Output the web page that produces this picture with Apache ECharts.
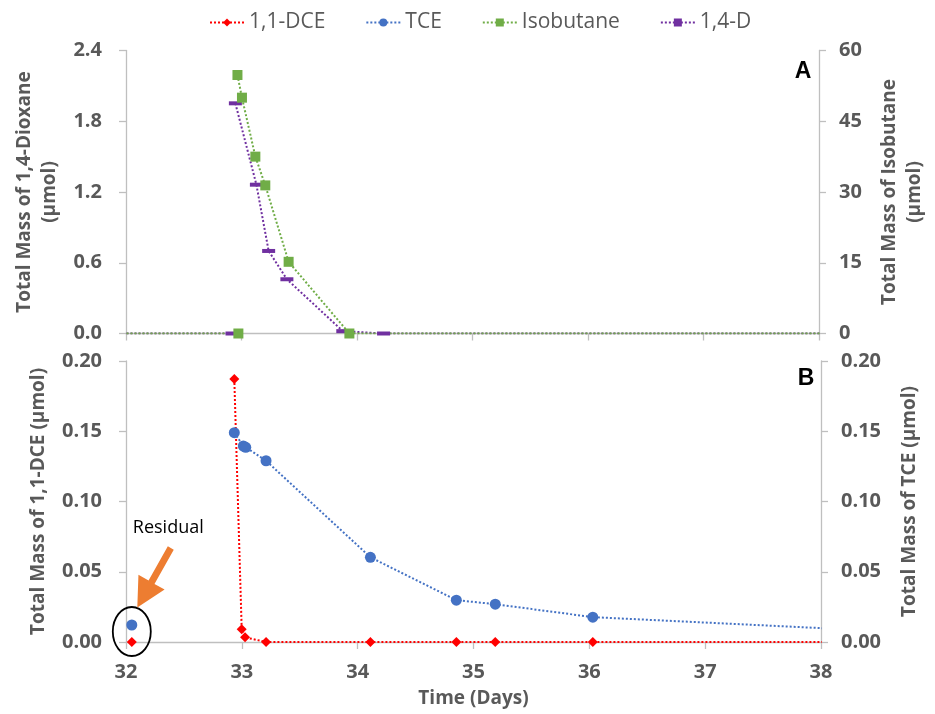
<!DOCTYPE html>
<html><head><meta charset="utf-8">
<script src="https://cdn.jsdelivr.net/npm/echarts@6/dist/echarts.min.js"></script>
<style>html,body{margin:0;padding:0;background:#fff}#c{width:935px;height:714px}</style>
</head><body><div id="c"></div>
<script>
// ---- data ----
const seriesNames = ['1,1-DCE', 'TCE', 'Isobutane', '1,4-D'];
// Panel A
const dioxBaseDays = [31, 32.918];
const dioxBaseMass = [0, 0];
const dioxDays = [32.947, 33.129, 33.235, 33.393, 33.877, 34.23, 39];
const dioxMass = [1.952, 1.262, 0.700, 0.460, 0.02, 0, 0];
const isoBaseDays = [31, 32.973];
const isoBaseMass = [0, 0];
const isoDays = [32.965, 33.004, 33.12, 33.206, 33.408, 33.934, 39];
const isoMass = [54.8, 50.0, 37.5, 31.4, 15.2, 0, 0];
// Panel B
const residualDays = [32.05];
const dceResidual = [0];
const tceResidual = [0.0121];
const dceDays = [32.935, 32.999, 33.028, 33.209, 34.11, 34.852, 35.188, 36.03, 39];
const dceMass = [0.1872, 0.009, 0.0033, 0, 0, 0, 0, 0, 0];
const tceDays = [32.935, 33.013, 33.034, 33.209, 34.11, 34.852, 35.188, 36.03, 39];
const tceMass = [0.149, 0.1395, 0.1386, 0.129, 0.0603, 0.0298, 0.0269, 0.0177, 0.0059];
// axes
const dayRange = [32, 38, 1];
const dioxRange = [0, 2.4, 0.6];
const isoRange = [0, 60, 15];
const massBRange = [0, 0.2, 0.05];
const axisTitles = {
  x: 'Time (Days)',
  dioxane: 'Total Mass of 1,4-Dioxane\n(µmol)',
  isobutane: 'Total Mass of Isobutane\n(µmol)',
  dce: 'Total Mass of 1,1-DCE (µmol)',
  tce: 'Total Mass of TCE (µmol)'
};
const panelLabels = ['A', 'B'];
const residualText = 'Residual';

// ---- helpers ----
function pairs(xs, ys) { return xs.map((x, i) => [x, ys[i]]); }
function joinSegments(...segs) {
  const out = [];
  segs.forEach((s, i) => { if (i > 0) out.push([s[0][0], '-']); out.push(...s); });
  return out;
}

const FONT = '"Open Sans", "Liberation Sans", sans-serif';
const GRAY = '#595959';
const AXIS_GRAY = '#BFBFBF';
const tickLabel = (dec) => ({ color: GRAY, fontFamily: FONT, fontWeight: 'bold', fontSize: 20, formatter: v => v.toFixed(dec) });
const nameStyle = { color: GRAY, fontFamily: FONT, fontWeight: 'bold', fontSize: 19, lineHeight: 25 };

function yAxis(grid, pos, range, dec, name, gap) {
  return {
    type: 'value', gridIndex: grid, position: pos, min: range[0], max: range[1], interval: range[2],
    axisLine: { show: true, lineStyle: { color: AXIS_GRAY, width: 1.3 } },
    axisTick: { show: true, length: 7, lineStyle: { color: AXIS_GRAY, width: 1.3 } },
    splitLine: { show: false },
    axisLabel: Object.assign(tickLabel(dec), { margin: pos === 'left' ? 24 : 20 }),
    name: name, nameLocation: 'middle', nameRotate: 90, nameGap: gap, nameTextStyle: nameStyle
  };
}
function xAxis(grid, showLabels) {
  return {
    type: 'value', gridIndex: grid, min: dayRange[0], max: dayRange[1], interval: dayRange[2],
    axisLine: { show: true, onZero: false, lineStyle: { color: AXIS_GRAY, width: 1.3 } },
    axisTick: { show: true, length: 7, lineStyle: { color: AXIS_GRAY, width: 1.3 } },
    splitLine: { show: false },
    axisLabel: Object.assign(tickLabel(0), { show: showLabels, margin: 20 }),
    name: showLabels ? axisTitles.x : '', nameLocation: 'middle', nameGap: 44, nameTextStyle: nameStyle
  };
}

const lineBase = { type: 'line', clip: true, smooth: false, animation: false, connectNulls: false };

const chart = echarts.init(document.getElementById('c'), null, { renderer: 'canvas' });
const option = {
  animation: false,
  backgroundColor: '#fff',
  grid: [
    { left: 126, right: 114, top: 50.5, height: 283 },
    { left: 126, right: 114, top: 361, height: 281 }
  ],
  legend: {
    data: seriesNames, top: 7, left: 204, itemWidth: 34, itemHeight: 10, itemGap: 40,
    textStyle: { color: GRAY, fontFamily: FONT, fontSize: 21, fontWeight: 500 }
  },
  xAxis: [xAxis(0, false), xAxis(1, true)],
  yAxis: [
    yAxis(0, 'left', dioxRange, 1, axisTitles.dioxane, 63),
    yAxis(0, 'right', isoRange, 0, axisTitles.isobutane, 58),
    yAxis(1, 'left', massBRange, 2, axisTitles.dce, 75),
    yAxis(1, 'right', massBRange, 2, axisTitles.tce, 76)
  ],
  series: [
    Object.assign({}, lineBase, {
      name: seriesNames[3], xAxisIndex: 0, yAxisIndex: 0,
      data: joinSegments(pairs(dioxBaseDays, dioxBaseMass), pairs(dioxDays, dioxMass)),
      symbol: 'rect', symbolSize: [13, 4],
      itemStyle: { color: '#7030A0' }, lineStyle: { color: '#7030A0', width: 2, type: 'dotted' }
    }),
    Object.assign({}, lineBase, {
      name: seriesNames[2], xAxisIndex: 0, yAxisIndex: 1,
      data: joinSegments(pairs(isoBaseDays, isoBaseMass), pairs(isoDays, isoMass)),
      symbol: 'rect', symbolSize: 10,
      itemStyle: { color: '#70AD47' }, lineStyle: { color: '#70AD47', width: 2, type: 'dotted' }
    }),
    Object.assign({}, lineBase, {
      name: seriesNames[1], xAxisIndex: 1, yAxisIndex: 3,
      data: joinSegments(pairs(residualDays, tceResidual), pairs(tceDays, tceMass)),
      symbol: 'circle', symbolSize: 11,
      itemStyle: { color: '#4472C4' }, lineStyle: { color: '#4472C4', width: 2, type: 'dotted' }
    }),
    Object.assign({}, lineBase, {
      name: seriesNames[0], xAxisIndex: 1, yAxisIndex: 2,
      data: joinSegments(pairs(residualDays, dceResidual), pairs(dceDays, dceMass)),
      symbol: 'diamond', symbolSize: 10,
      itemStyle: { color: '#FF0000' }, lineStyle: { color: '#FF0000', width: 2, type: 'dotted' }
    })
  ]
};
chart.setOption(option);

// annotations anchored on the residual point
const p = chart.convertToPixel({ gridIndex: 1 }, [residualDays[0], 0]);
const gA = chart.convertToPixel({ gridIndex: 0 }, [dayRange[1], dioxRange[1]]);
const gB = chart.convertToPixel({ gridIndex: 1 }, [dayRange[1], massBRange[1]]);
const tip = [p[0] + 5.5, p[1] - 34.5];
const tail = [p[0] + 39, p[1] - 94];
const dx = tip[0] - tail[0], dy = tip[1] - tail[1];
const len = Math.hypot(dx, dy), ux = dx / len, uy = dy / len, nx = -uy, ny = ux;
const headLen = 29, headHalf = 15, shaftHalf = 3.4;
const neck = [tip[0] - ux * headLen, tip[1] - uy * headLen];
const arrowPts = [
  [tail[0] + nx * shaftHalf, tail[1] + ny * shaftHalf],
  [neck[0] + nx * shaftHalf, neck[1] + ny * shaftHalf],
  [neck[0] + nx * headHalf, neck[1] + ny * headHalf],
  tip,
  [neck[0] - nx * headHalf, neck[1] - ny * headHalf],
  [neck[0] - nx * shaftHalf, neck[1] - ny * shaftHalf],
  [tail[0] - nx * shaftHalf, tail[1] - ny * shaftHalf]
];
chart.setOption({
  graphic: [
    { type: 'ellipse', shape: { cx: p[0], cy: p[1] - 10.5, rx: 19, ry: 24.5 },
      style: { fill: 'none', stroke: '#000', lineWidth: 1.8 }, z: 10 },
    { type: 'polygon', shape: { points: arrowPts }, style: { fill: '#ED7D31' }, z: 10 },
    { type: 'text', x: p[0] + 1, y: p[1] - 114,
      style: { text: residualText, fill: '#000', font: '18px ' + FONT, textVerticalAlign: 'middle', textAlign: 'left' }, z: 10 },
    { type: 'text', x: gA[0] - 16, y: gA[1] + 21,
      style: { text: panelLabels[0], fill: '#000', font: 'bold 23px "Liberation Sans", Arial, sans-serif', textAlign: 'center', textVerticalAlign: 'middle' }, z: 10 },
    { type: 'text', x: gB[0] - 15, y: gB[1] + 18,
      style: { text: panelLabels[1], fill: '#000', font: 'bold 23px "Liberation Sans", Arial, sans-serif', textAlign: 'center', textVerticalAlign: 'middle' }, z: 10 }
  ]
});
</script></body></html>
